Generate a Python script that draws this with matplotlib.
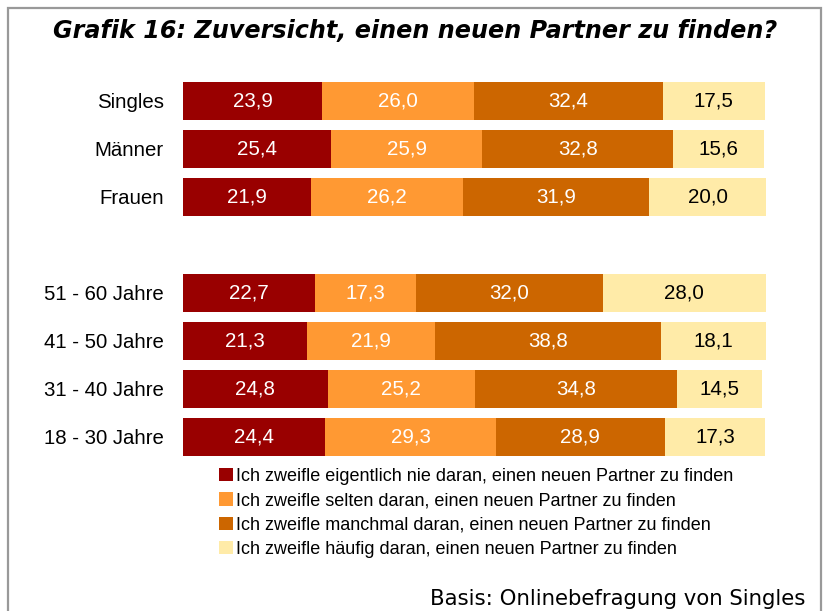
import matplotlib
matplotlib.use("Agg")
import matplotlib.pyplot as plt
from matplotlib.patches import Rectangle
import numpy as np

categories = ["Singles", "Männer", "Frauen", "", "51 - 60 Jahre", "41 - 50 Jahre", "31 - 40 Jahre", "18 - 30 Jahre"]
nie = [23.9, 25.4, 21.9, None, 22.7, 21.3, 24.8, 24.4]
selten = [26.0, 25.9, 26.2, None, 17.3, 21.9, 25.2, 29.3]
manchmal = [32.4, 32.8, 31.9, None, 32.0, 38.8, 34.8, 28.9]
haeufig = [17.5, 15.6, 20.0, None, 28.0, 18.1, 14.5, 17.3]
series_labels = [
    "Ich zweifle eigentlich nie daran, einen neuen Partner zu finden",
    "Ich zweifle selten daran, einen neuen Partner zu finden",
    "Ich zweifle manchmal daran, einen neuen Partner zu finden",
    "Ich zweifle häufig daran, einen neuen Partner zu finden",
]
colors = ["#990000", "#FF9933", "#CC6600", "#FFEBA8"]
text_colors = ["white", "white", "white", "black"]

plt.rcParams['font.family'] = ['Liberation Sans', 'DejaVu Sans']

fig = plt.figure(figsize=(8.27, 6.11), dpi=100)
W, H = 827, 611
ax = fig.add_axes([183 / W, 1 - 461 / H, 583 / W, 384 / H])

# border
fig.patches.append(Rectangle((8 / W, -0.05), (821 - 8) / W, (611 - 8) / H + 0.05,
                             transform=fig.transFigure, fill=False,
                             edgecolor="#999999", linewidth=1.6))

series = [nie, selten, manchmal, haeufig]
ypos = np.arange(len(categories))
idx = [i for i, c in enumerate(categories) if c]
left = np.zeros(len(idx))
handles = []
for s, col, tc, lab in zip(series, colors, text_colors, series_labels):
    vals = np.array([s[i] for i in idx])
    b = ax.barh(ypos[idx], vals, left=left, height=0.79, color=col, label=lab, linewidth=0)
    handles.append(b)
    for y, l, v in zip(ypos[idx], left, vals):
        ax.text(l + v / 2, y, f"{v:.1f}".replace(".", ","), ha="center", va="center",
                color=tc, fontsize=14.8)
    left = left + vals

ax.set_xlim(0, 100)
ax.set_ylim(len(categories) - 0.5, -0.5)
ax.set_yticks(ypos[idx])
ax.set_yticklabels([categories[i] for i in idx], fontsize=14.7)
ax.tick_params(axis="y", length=0, pad=14)
ax.set_xticks([])
for sp in ax.spines.values():
    sp.set_visible(False)

fig.text(415 / W, 1 - 31 / H, "Grafik 16: Zuversicht, einen neuen Partner zu finden?",
         ha="center", va="center", fontsize=17.2, fontweight="bold", fontstyle="italic",
         family="DejaVu Sans")

fig.legend(handles=handles, labels=series_labels, loc="upper left",
           bbox_to_anchor=(219 / W, 1 - 468 / H), frameon=False, fontsize=13,
           handlelength=0.75, handleheight=0.75, handletextpad=0.2,
           labelspacing=0.4, borderpad=0, borderaxespad=0)

fig.text(805 / W, 1 - 599 / H, "Basis: Onlinebefragung von Singles", ha="right", va="center",
         fontsize=15.3, family="DejaVu Sans")

fig.savefig("out.png", dpi=100)
